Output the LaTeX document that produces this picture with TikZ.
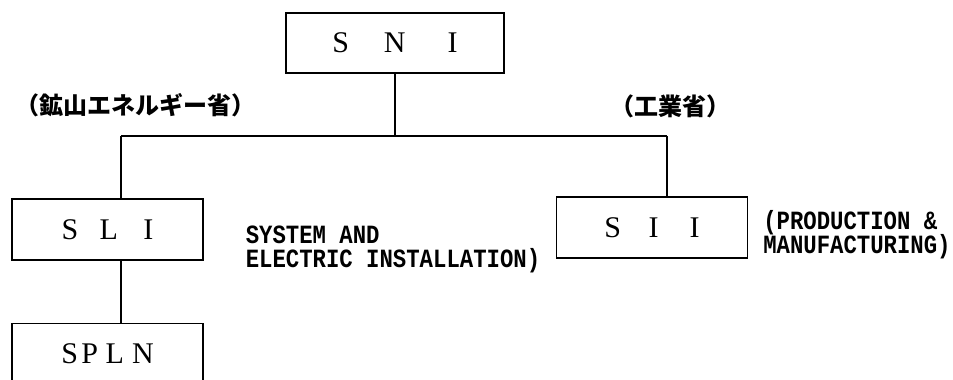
\documentclass[tikz,border=0pt]{standalone}
\usepackage{fontspec}
\setmainfont{Liberation Serif}
\newfontfamily\cjk{Noto Sans CJK JP}
\newfontfamily\typemono{Liberation Mono}
\usetikzlibrary{positioning}

\begin{document}
\begin{tikzpicture}[x=1pt, y=1pt,
    orgbox/.style={draw=black, line width=1.2pt, rectangle, minimum width=191pt, minimum height=61pt, inner sep=0pt, font=\fontsize{30}{32}\selectfont},
    edge/.style={line width=1.2pt},
    jlabel/.style={font=\cjk\bfseries\fontsize{24}{26}\selectfont, inner sep=0pt},
    note/.style={font=\typemono\bfseries\fontsize{22.3}{24}\selectfont, inner sep=0pt, text height=17pt, text depth=2pt, anchor=west}
]
\useasboundingbox (0,0) rectangle (953,380);
\clip (0,0) rectangle (953,380);

% Boxes
\node[orgbox, minimum width=218pt, minimum height=60pt] (sni) at (395,337) {S\hspace{35pt}N\hspace{42pt}I};
\node[orgbox] (sli) at (107.5,150.5) {S\hspace{21.5pt}L\hspace{25.5pt}I};
\node[orgbox] (sii) at (652,152.5) {S\hspace{27.5pt}I\hspace{31pt}I};
\node[orgbox, below=62pt of sli] (spln) {S\hspace{3.5pt}P\hspace{7.5pt}L\hspace{8pt}N};

% Labels
\node[jlabel] (mines) at (136,275) {（鉱山エネルギー省）};
\node[jlabel] (industry) at (670,274) {（工業省）};
\node[note, right=42pt of sli, yshift=-6.5pt] (sliNote1) {\scalebox{1}[1.18]{SYSTEM AND}};
\node[note] (sliNote2) at ([yshift=-24pt] sliNote1.west) {\scalebox{1}[1.18]{ELECTRIC INSTALLATION)}};
\node[note, right=15pt of sii, yshift=5.5pt] (siiNote1) {\scalebox{1}[1.18]{(PRODUCTION \&}};
\node[note] (siiNote2) at ([yshift=-24pt] siiNote1.west) {\scalebox{1}[1.18]{MANUFACTURING)}};

% Connectors
\coordinate (busL) at (121,244);
\coordinate (busR) at (667,244);
\draw[edge] (busL) -- (busR);
\draw[edge] (sni.south) -- (sni.south |- busL);
\draw[edge] (busL) -- (busL |- sli.north);
\draw[edge] (busR) -- (busR |- sii.north);
\draw[edge] (sli.south -| busL) -- (spln.north -| busL);

\end{tikzpicture}
\end{document}
